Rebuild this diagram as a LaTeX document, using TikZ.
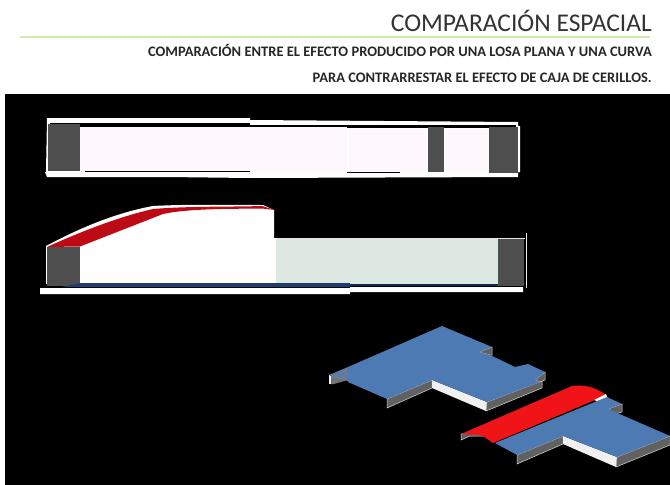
\documentclass[tikz,border=0pt]{standalone}
\usepackage{fontspec}
\setmainfont{Carlito}
\definecolor{losablue}{RGB}{78,122,180}
\definecolor{redcurve}{RGB}{190,10,20}
\definecolor{redroof}{RGB}{240,20,25}
\definecolor{wallgrey}{RGB}{78,78,78}
\definecolor{paleroom}{RGB}{222,232,226}
\definecolor{pinkroom}{RGB}{254,248,252}
\definecolor{sideblue}{RGB}{30,60,110}
\begin{document}
\begin{tikzpicture}[x=1pt,y=-1pt,
    heading/.style={anchor=base east,inner sep=0pt,text=black!80},
    subheading/.style={anchor=base east,inner sep=0pt,text=black!85,font=\fontsize{14.5}{16}\selectfont\bfseries},
    frame/.style={fill=white,draw=none},
    wall/.style={fill=wallgrey,draw=none},
    losa/.style={fill=losablue,draw=none},
    sidedark/.style={fill=black!62,draw=black!15,line width=0.5pt},
    sidelight/.style={fill=black!6,draw=none},
    ]
    \useasboundingbox (0,0) rectangle (670,485);
    \fill[white] (0,0) rectangle (670,485);
    \fill[black] (5,94) rectangle (670,485);

    % heading
    \draw[yellow!45!green!35,line width=1.2pt] (20,37) -- (650,37);
    \node (title) [heading,font=\fontsize{25.5}{28}\selectfont] at (652,31){COMPARACIÓN ESPACIAL};
    \node (subone) [subheading] at (652,56){COMPARACIÓN ENTRE EL EFECTO PRODUCIDO POR UNA LOSA PLANA Y UNA CURVA};
    \node (subtwo) [subheading] at (652,82){PARA CONTRARRESTAR EL EFECTO DE CAJA DE CERILLOS.};

    % plan with flat slab
    \fill[frame] (47,118) -- (250,118) -- (250,120) -- (518,122) -- (518,126) -- (520,126) -- (520,172) -- (518,172) -- (518,177) -- (250,178) -- (167,177) -- (47,177) -- (45,172) -- (46,172) -- cycle;
    \fill[black] (50,123) rectangle (250,127);
    \fill[black] (250,125) rectangle (516,128);
    \fill[pinkroom] (80,127) rectangle (347,172);
    \fill[pinkroom] (349,129) rectangle (427,172);
    \fill[pinkroom] (445,129) rectangle (488,172);
    \fill[black] (85,171) rectangle (250,172);
    \fill[black] (347,172) rectangle (400,173);
    \fill[wall] (48,124) rectangle (80,171);
    \fill[wall] (428,127) rectangle (444,172);
    \fill[wall] (489,127) rectangle (518,173);

    % section with curved slab
    \fill[white] (46,246) .. controls (80,228) and (115,213) .. (153,206) .. controls (190,204) and (230,205) .. (263,205) -- (274,210) -- (274,238) -- (276,238) -- (276,284) -- (46,284) -- cycle;
    \fill[redcurve] (47,247) .. controls (80,232) and (118,217) .. (153,209) .. controls (190,206) and (230,207) .. (262,206) -- (275,210) -- (262,208.5) .. controls (240,209) and (190,208) .. (163,214) -- (80,246.5) -- cycle;
    \fill[paleroom] (276,239) rectangle (498,284);
    \draw[black!10,line width=0.8pt] (276,238) -- (525,238);
    \draw[black!10,line width=1pt] (526,233) -- (526,288);
    \fill[wall] (47,247) rectangle (80,286);
    \fill[wall] (498,239) rectangle (524,286);
    \fill[frame] (40,288) -- (350,288) -- (350,287) -- (523,287) -- (523,292) -- (350,292) -- (350,294) -- (40,294) -- cycle;
    \fill[sideblue] (80,283) -- (350,283) -- (350,287) -- (62,287) -- cycle;
    \fill[sideblue!70!black] (350,283.5) rectangle (498,285.5);

    % first slab in axonometry
    \fill[sidedark] (387,399) -- (387,408) -- (432,388) -- (432,380) -- cycle;
    \fill[sidelight] (432,380) -- (432,388) -- (486,411) -- (487,402) -- cycle;
    \fill[sidedark] (487,402) -- (486,411) -- (542,388) -- (542,381) -- cycle;
    \fill[sidedark] (535,380) -- (545,372) -- (545,380) -- (540,382) -- cycle;
    \fill[sidedark] (479,352) -- (492,347) -- (492,355) -- (490,355) -- cycle;
    \fill[sidelight] (329,375) rectangle (331,384);
    \fill[black!55] (331,376) -- (348,380) -- (334,384) -- (331,384) -- cycle;
    \fill[losablue!60!gray] (329,375) -- (348,367) -- (348,381) -- (334,378) -- cycle;
    \fill[losa] (348,367) -- (442,326) -- (492,347) -- (479,352) -- (490,355) -- (515,367) -- (528,364) -- (545,372) -- (535,380) -- (540,382) -- (487,402) -- (432,380) -- (387,399) -- (348,382) -- cycle;

    % second slab in axonometry
    \fill[sidedark] (517,455) -- (517,464) -- (563,444) -- (563,436) -- cycle;
    \fill[sidelight] (563,436) -- (563,444) -- (616,467) -- (617,457) -- cycle;
    \fill[sidedark] (617,457) -- (616,467) -- (670,445) -- (670,436) -- cycle;
    \fill[sidedark] (608,409) -- (622,404) -- (622,412) -- (615,414) -- cycle;
    \fill[sidedark] (461,434) -- (461,440) -- (470,436) -- (483,436) -- (480,433) -- cycle;
    \fill[losa] (495,443) -- (607,397) -- (622,404) -- (608,409) -- (670,436) -- (617,457) -- (563,436) -- (517,455) -- cycle;
    \fill[redroof] (461,434) -- (572,386) .. controls (585,384) and (597,388) .. (606,395) -- (595,400) -- (493,443) -- (483,436) .. controls (476,434) and (470,435) .. (461,434) -- cycle;
    \fill[white] (594,400) -- (606,394) -- (607,397) -- (597,401) -- cycle;
\end{tikzpicture}
\end{document}
